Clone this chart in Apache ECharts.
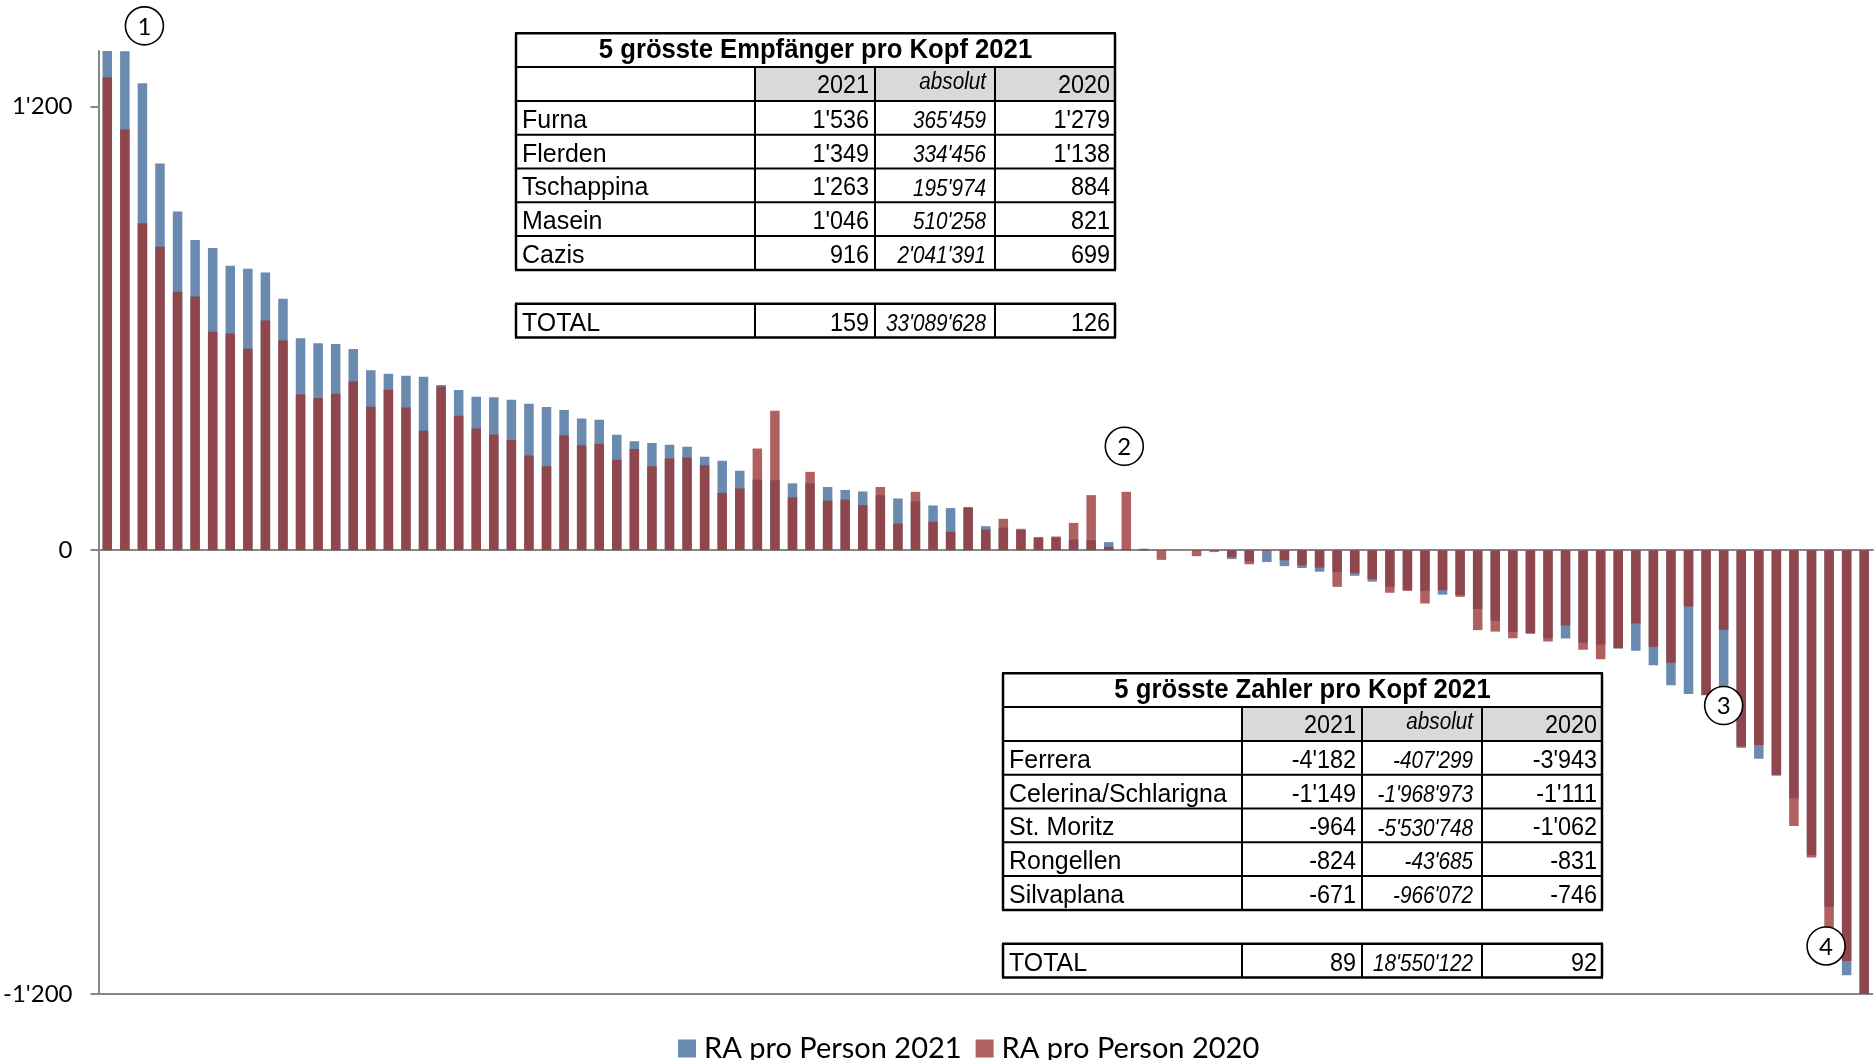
<!DOCTYPE html>
<html>
<head>
<meta charset="utf-8">
<script src="https://cdn.jsdelivr.net/npm/echarts@6/dist/echarts.min.js"></script>
<style>
html,body{margin:0;padding:0;background:#fff;}
#c{width:1874px;height:1060px;}
</style>
</head>
<body>
<div id="c"></div>
<script>
// ---- data (per-capita resource equalisation, sorted by 2021 value) ----
const values2021 = [1536,1349,1263,1046,916,839,817,769,761,751,
  680,573,560,558,544,487,477,472,469,447,
  433,415,414,407,396,387,379,356,353,312,
  295,290,285,280,253,242,215,191,189,181,
  181,171,163,159,149,140,132,121,114,114,
  65,61,58,36,35,29,27,22,3,2,
  0,0,-1,-5,-24,-30,-32,-43,-48,-58,
  -59,-69,-85,-99,-107,-110,-120,-121,-159,-191,
  -221,-224,-238,-239,-250,-255,-266,-272,-311,-365,
  -389,-391,-400,-530,-564,-610,-671,-824,-964,-1149,-4182];
const values2020 = [1279,1138,884,821,699,686,591,586,545,621,
  567,421,412,423,456,388,434,386,323,443,
  364,329,313,298,256,227,311,284,288,245,
  274,227,248,251,230,155,167,275,377,143,
  212,134,137,122,171,72,158,77,50,117,
  56,85,55,33,37,74,149,9,158,4,
  -26,0,-16,-2,-19,-38,-2,-27,-41,-47,
  -99,-62,-78,-115,-110,-144,-108,-126,-216,-220,
  -238,-226,-247,-203,-269,-295,-265,-198,-261,-304,
  -152,-392,-215,-534,-527,-607,-746,-831,-1062,-1111,-3943];
const categories = values2021.map((_, i) => String(i + 1));
const yTicks = [-1200, 0, 1200];
const yMin = -1200, yMax = 1350;
const seriesNames = ['RA pro Person 2021', 'RA pro Person 2020'];

// tables
const topTitle = '5 grösste Empfänger pro Kopf 2021';
const topNames = ['Furna', 'Flerden', 'Tschappina', 'Masein', 'Cazis'];
const top2021 = [1536, 1349, 1263, 1046, 916];
const topAbs = [365459, 334456, 195974, 510258, 2041391];
const top2020 = [1279, 1138, 884, 821, 699];
const topTotal = [159, 33089628, 126];

const botTitle = '5 grösste Zahler pro Kopf 2021';
const botNames = ['Ferrera', 'Celerina/Schlarigna', 'St. Moritz', 'Rongellen', 'Silvaplana'];
const bot2021 = [-4182, -1149, -964, -824, -671];
const botAbs = [-407299, -1968973, -5530748, -43685, -966072];
const bot2020 = [-3943, -1111, -1062, -831, -746];
const botTotal = [89, 18550122, 92];

const headerLabels = ['2021', 'absolut', '2020'];

// annotations: [label, category index, value position, pixel nudge]
const annotations = [['1', 2, 1418, 2], ['2', 58, 281, -2], ['3', 92, -420, 0], ['4', 98, -1070, -3]];

function fmt(v) {
  const s = Math.abs(Math.round(v)).toString().replace(/\B(?=(\d{3})+(?!\d))/g, "'");
  return (v < 0 ? '-' : '') + s;
}

const chart = echarts.init(document.getElementById('c'));
const axisGray = '#868686';
chart.setOption({
  animation: false,
  backgroundColor: '#fff',
  grid: { left: 92, right: 1, top: 51, bottom: 66, containLabel: false },
  xAxis: {
    type: 'category', data: categories,
    axisLine: { onZero: true, lineStyle: { color: axisGray, width: 2 } },
    axisTick: { show: false }, axisLabel: { show: false }, splitLine: { show: false }
  },
  yAxis: {
    type: 'value', min: yMin, max: yMax, interval: 1200,
    axisLine: { show: true, lineStyle: { color: axisGray, width: 2 } },
    axisTick: { show: true, length: 8, customValues: yTicks, lineStyle: { color: axisGray, width: 2 } },
    axisLabel: {
      customValues: yTicks, margin: 26, fontFamily: 'Lato', fontSize: 24, color: '#000',
      formatter: v => (yTicks.indexOf(v) >= 0 ? fmt(v) : '')
    },
    splitLine: { show: true, showMaxLine: false, lineStyle: { color: axisGray, width: 2 } }
  },
  legend: {
    left: 673, top: 1029, itemWidth: 18, itemHeight: 18, itemGap: 14, icon: 'rect',
    textStyle: { fontFamily: 'Lato', fontSize: 29, color: '#000', padding: [0, 0, 0, 3] },
    data: [
      { name: seriesNames[0], itemStyle: { color: '#6A8AAF', opacity: 1 } },
      { name: seriesNames[1], itemStyle: { color: '#B0605E', opacity: 1 } }
    ]
  },
  series: [
    { name: seriesNames[0], type: 'bar', data: values2021, barWidth: 9.5, barGap: '-100%',
      itemStyle: { color: '#6A8AAF' } },
    { name: seriesNames[1], type: 'bar', data: values2020, barWidth: 9.5, barGap: '-100%',
      itemStyle: { color: 'rgb(154,51,49)', opacity: 0.78 } }
  ]
});

// ---- graphic overlays ----
const Z = 100;
function rect(x, y, w, h, fill) {
  return { type: 'rect', z: Z, shape: { x, y, width: w, height: h }, style: { fill, stroke: null }, silent: true };
}
function line(x1, y1, x2, y2, w) {
  return { type: 'line', z: Z + 1, shape: { x1, y1, x2, y2 }, style: { stroke: '#000', lineWidth: w || 2 }, silent: true };
}
function txt(s, x, y, size, opts) {
  opts = opts || {};
  const font = (opts.italic ? 'italic ' : '') + (opts.bold ? 'bold ' : '') + size + 'px "Liberation Sans", Arial, sans-serif';
  return { type: 'text', z: Z + 2, x, y, scaleX: opts.sx || 0.9, silent: true,
    style: { text: s, font, fill: '#000', textAlign: opts.align || 'right', textVerticalAlign: 'middle' } };
}
function table(x0, y0, title, names, c1, c2, c3, tot) {
  const rh = 33.8, W = 599;
  const cx = [x0, x0 + 239, x0 + 359, x0 + 479, x0 + W];
  const els = [];
  els.push(rect(x0, y0, W, 7 * rh, '#fff'));
  els.push(rect(cx[1], y0 + rh, W - 239, rh, '#d9d9d9'));
  els.push(rect(x0, y0 + 8 * rh, W, rh, '#fff'));
  for (let k = 0; k <= 7; k++) els.push(line(x0 - 1, y0 + k * rh, x0 + W + 1, y0 + k * rh, k === 0 || k === 7 ? 2.5 : 2));
  els.push(line(x0 - 1, y0 + 8 * rh, x0 + W + 1, y0 + 8 * rh, 2.5));
  els.push(line(x0 - 1, y0 + 9 * rh, x0 + W + 1, y0 + 9 * rh, 2.5));
  els.push(line(x0, y0, x0, y0 + 7 * rh, 2.5));
  els.push(line(x0 + W, y0, x0 + W, y0 + 7 * rh, 2.5));
  for (let i = 1; i <= 3; i++) els.push(line(cx[i], y0 + rh, cx[i], y0 + 7 * rh, 2));
  for (let i = 0; i <= 4; i++) els.push(line(cx[i], y0 + 8 * rh, cx[i], y0 + 9 * rh, i === 0 || i === 4 ? 2.5 : 2));
  // title
  els.push(txt(title, x0 + W / 2, y0 + rh - 16.5, 27, { bold: true, align: 'center', sx: 0.95 }));
  // header
  const hb = y0 + 2 * rh;
  els.push(txt(headerLabels[0], cx[2] - 6, hb - 14.8, 26));
  els.push(txt(headerLabels[1], cx[3] - 9, hb - 18, 23, { italic: true }));
  els.push(txt(headerLabels[2], cx[4] - 5, hb - 14.8, 26));
  // rows
  for (let k = 0; k < names.length; k++) {
    const b = y0 + (3 + k) * rh;
    els.push(txt(names[k], x0 + 6, b - 14.1, 26, { align: 'left', sx: 0.96 }));
    els.push(txt(fmt(c1[k]), cx[2] - 6, b - 14.1, 26));
    els.push(txt(fmt(c2[k]), cx[3] - 9, b - 13, 23, { italic: true }));
    els.push(txt(fmt(c3[k]), cx[4] - 5, b - 14.1, 26));
  }
  const tb = y0 + 9 * rh;
  els.push(txt('TOTAL', x0 + 6, tb - 14.1, 26, { align: 'left', sx: 0.96 }));
  els.push(txt(fmt(tot[0]), cx[2] - 6, tb - 14.1, 26));
  els.push(txt(fmt(tot[1]), cx[3] - 9, tb - 13, 23, { italic: true }));
  els.push(txt(fmt(tot[2]), cx[4] - 5, tb - 14.1, 26));
  return els;
}

const graphics = [];
graphics.push(...table(516, 33.3, topTitle, topNames, top2021, topAbs, top2020, topTotal));
graphics.push(...table(1003, 673.3, botTitle, botNames, bot2021, botAbs, bot2020, botTotal));
annotations.forEach(([label, cat, val, dx]) => {
  const p = chart.convertToPixel({ xAxisIndex: 0, yAxisIndex: 0 }, [cat, val]);
  graphics.push({ type: 'circle', z: Z, shape: { cx: p[0] + dx, cy: p[1], r: 19 }, silent: true,
    style: { fill: '#fff', stroke: '#000', lineWidth: 1.6 } });
  graphics.push({ type: 'text', z: Z + 2, x: p[0] + dx, y: p[1] + 1, silent: true,
    style: { text: label, font: '24px Lato, sans-serif', fill: '#000', textAlign: 'center', textVerticalAlign: 'middle' } });
});
chart.setOption({ graphic: graphics });
</script>
</body>
</html>
